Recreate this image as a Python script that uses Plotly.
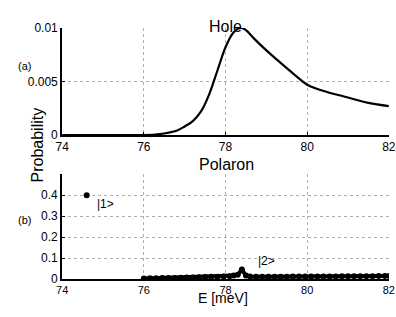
import plotly.graph_objects as go

# Hole probability curve (panel a)
hole_E = [74.0, 75.0, 76.0, 76.4, 76.8, 77.0, 77.2, 77.4, 77.6, 77.8, 78.0, 78.2, 78.38,
          78.5, 78.7, 79.0, 79.3, 79.7, 80.0, 80.5, 80.9, 81.5, 82.0]
hole_P = [0.0, 0.0, 0.0, 0.0001, 0.0004, 0.0008, 0.0013, 0.0022, 0.0038, 0.0060, 0.0082,
          0.0096, 0.0100, 0.0098, 0.0090, 0.0079, 0.0069, 0.0056, 0.0047, 0.0040, 0.0036,
          0.0030, 0.0027]

# Polaron probabilities (panel b)
pol_E = [76.0, 76.15, 76.3, 76.45, 76.6, 76.75, 76.9, 77.05, 77.2, 77.35, 77.5, 77.65,
         77.8, 77.95, 78.1, 78.2, 78.3, 78.4, 78.5, 78.6, 78.75, 78.9, 79.05, 79.2, 79.35,
         79.5, 79.65, 79.8, 79.95, 80.1, 80.25, 80.4, 80.55, 80.7, 80.85, 81.0, 81.15,
         81.3, 81.45, 81.6, 81.75, 81.9, 82.0]
pol_P = [0.002, 0.003, 0.003, 0.004, 0.005, 0.005, 0.006, 0.007, 0.007, 0.008, 0.009, 0.010,
         0.011, 0.012, 0.013, 0.016, 0.020, 0.045, 0.016, 0.012, 0.011, 0.011, 0.011, 0.011,
         0.011, 0.011, 0.012, 0.012, 0.012, 0.012, 0.012, 0.012, 0.012, 0.012, 0.013,
         0.013, 0.013, 0.013, 0.013, 0.013, 0.014, 0.014, 0.014]
state1_E = [74.6]
state1_P = [0.40]

x_ticks = [74, 76, 78, 80, 82]
ya_ticks = [0, 0.005, 0.01]
ya_labels = ["0", "0.005", "0.01"]
yb_ticks = [0, 0.1, 0.2, 0.3, 0.4]
yb_labels = ["0", "0.1", "0.2", "0.3", "0.4"]

fig = go.Figure()
fig.add_trace(go.Scatter(x=hole_E, y=hole_P, mode="lines", line=dict(color="black", width=2.2, shape="spline"),
                         xaxis="x", yaxis="y", showlegend=False))
fig.add_trace(go.Scatter(x=pol_E, y=pol_P, mode="lines+markers", line=dict(color="black", width=4),
                         marker=dict(color="black", size=6),
                         xaxis="x2", yaxis="y2", showlegend=False))
fig.add_trace(go.Scatter(x=state1_E, y=state1_P, mode="markers", marker=dict(color="black", size=6),
                         xaxis="x2", yaxis="y2", showlegend=False))

font = "Liberation Sans, Arial, sans-serif"
axcommon = dict(showline=True, linecolor="black", linewidth=2, ticks="inside", ticklen=3,
                tickcolor="black", showgrid=True, gridcolor="#b0b0b0", griddash="dot", gridwidth=1,
                zeroline=False, automargin=False)
tf12 = dict(family=font, size=12, color="black")
tf11 = dict(family=font, size=11, color="black")

fig.update_layout(
    width=396, height=317, margin=dict(l=0, r=0, t=0, b=0, pad=0, autoexpand=False),
    paper_bgcolor="white", plot_bgcolor="white",
    xaxis=dict(domain=[0.157, 0.982], range=[74, 82], tickvals=x_ticks, anchor="y", tickfont=tf12, **axcommon),
    yaxis=dict(domain=[0.574, 0.912], range=[0, 0.01], tickvals=ya_ticks, ticktext=ya_labels,
               anchor="x", tickfont=tf12, **axcommon),
    xaxis2=dict(domain=[0.157, 0.982], range=[74, 82], tickvals=x_ticks, anchor="y2", tickfont=tf11, **axcommon),
    yaxis2=dict(domain=[0.12, 0.45], range=[0, 0.5], tickvals=yb_ticks, ticktext=yb_labels,
                anchor="x2", tickfont=tf12, **axcommon),
    annotations=[
        dict(text="Hole", x=225/396, y=1 - 16/317, xref="paper", yref="paper", showarrow=False,
             font=dict(family=font, size=16, color="black")),
        dict(text="Polaron", x=226/396, y=1 - 164/317, xref="paper", yref="paper", showarrow=False,
             font=dict(family=font, size=16, color="black")),
        dict(text="E [meV]", x=223/396, y=1 - 308/317, xref="paper", yref="paper", showarrow=False,
             font=dict(family=font, size=14, color="black")),
        dict(text="Probability", x=26/396, y=1 - 145/317, xref="paper", yref="paper", showarrow=False,
             textangle=-90, font=dict(family=font, size=16, color="black")),
        dict(text="(a)", x=16/396, y=1 - 58/317, xref="paper", yref="paper", showarrow=False,
             font=dict(family=font, size=11, color="black")),
        dict(text="(b)", x=16/396, y=1 - 228/317, xref="paper", yref="paper", showarrow=False,
             font=dict(family=font, size=11, color="black")),
        dict(text="|1>", x=74.8, y=0.36, xref="x2", yref="y2", xanchor="left", showarrow=False,
             font=dict(family=font, size=12, color="black")),
        dict(text="|2>", x=78.75, y=0.088, xref="x2", yref="y2", xanchor="left", showarrow=False,
             font=dict(family=font, size=12, color="black")),
    ],
)

fig.write_html("out.html", config={"displayModeBar": False},
               post_script="document.body.style.margin='0';document.body.style.overflow='hidden';")
